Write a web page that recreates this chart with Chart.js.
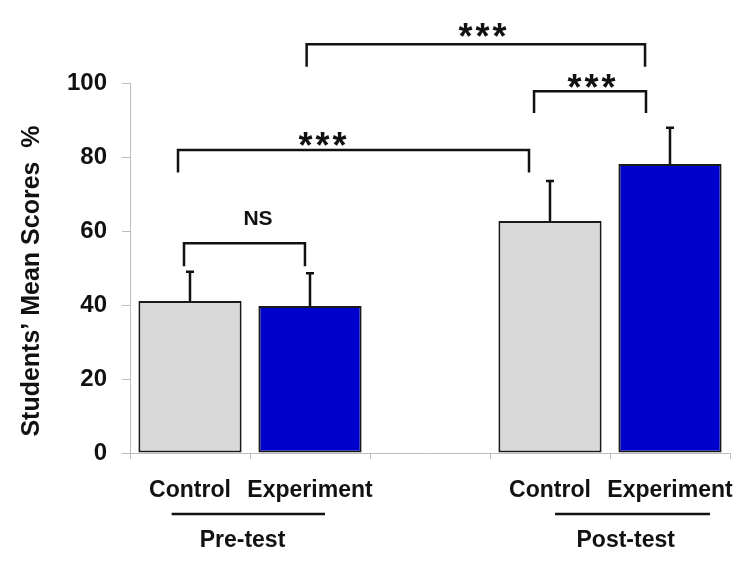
<!DOCTYPE html>
<html>
<head>
<meta charset="utf-8">
<script src="https://cdn.jsdelivr.net/npm/chart.js@4.4.1/dist/chart.umd.min.js"></script>
<style>
  body { margin: 0; background: #fff; }
  canvas { display: block; }
</style>
</head>
<body>
<canvas id="scores" width="750" height="565"></canvas>
<script>
// categories along x (empty slot keeps the gap between pre and post test)
const groups = ['Control', 'Experiment', '', 'Control', 'Experiment'];
const meanScores = [41.1, 39.7, null, 62.7, 78.1];
const stdErrors = [7.9, 8.9, null, 10.8, 9.8];
const barColors = ['#d9d9d9', '#0000cc', '#ffffff', '#d9d9d9', '#0000cc'];
const yTicks = [0, 20, 40, 60, 80, 100];

// significance brackets: from/to in category units, heights in score units
const brackets = [
  { label: 'NS',  from: -0.05, to: 0.958, top: 56.7,  leg: 50.5, textX: 0.567, textY: 63.2 },
  { label: '***', from: -0.1,  to: 2.825, top: 81.9,  leg: 75.8, textX: 1.108, textY: 85.5 },
  { label: '***', from: 2.867, to: 3.8,   top: 97.8,  leg: 91.9, textX: 3.35,  textY: 101.1 },
  { label: '***', from: 0.972, to: 3.792, top: 110.5, leg: 104.4, textX: 2.442, textY: 114.9 }
];
const phases = [
  { label: 'Pre-test',  from: -0.153, to: 1.125, textX: 0.4375 },
  { label: 'Post-test', from: 3.042,  to: 4.333, textX: 3.631 }
];
const yTitle = 'Students’ Mean Scores  %';

const FONT = "'Liberation Sans', Arial, sans-serif";

const extras = {
  id: 'extras',
  afterDraw(chart) {
    const ctx = chart.ctx;
    const x = chart.scales.x, y = chart.scales.y;
    const meta = chart.getDatasetMeta(0);
    ctx.save();
    ctx.strokeStyle = '#111';
    ctx.fillStyle = '#111';

    // error bars, upper half only
    ctx.lineWidth = 2.5;
    meta.data.forEach((bar, i) => {
      if (meanScores[i] == null) return;
      const yTop = y.getPixelForValue(meanScores[i] + stdErrors[i]);
      const yBar = y.getPixelForValue(meanScores[i]);
      ctx.beginPath();
      ctx.moveTo(bar.x, yBar);
      ctx.lineTo(bar.x, yTop);
      ctx.moveTo(bar.x - 4, yTop);
      ctx.lineTo(bar.x + 4, yTop);
      ctx.stroke();
    });

    // brackets
    ctx.lineWidth = 2.5;
    brackets.forEach(b => {
      const x1 = x.getPixelForValue(b.from), x2 = x.getPixelForValue(b.to);
      const yt = y.getPixelForValue(b.top), yl = y.getPixelForValue(b.leg);
      ctx.beginPath();
      ctx.moveTo(x1, yl);
      ctx.lineTo(x1, yt);
      ctx.lineTo(x2, yt);
      ctx.lineTo(x2, yl);
      ctx.stroke();
      const tx = x.getPixelForValue(b.textX), ty = y.getPixelForValue(b.textY);
      ctx.textAlign = 'center';
      if (b.label === 'NS') {
        ctx.font = 'bold 21px ' + FONT;
        ctx.textBaseline = 'middle';
        ctx.fillText(b.label, tx, ty);
      } else {
        ctx.font = 'bold 36px ' + FONT;
        ctx.textBaseline = 'alphabetic';
        ctx.letterSpacing = '3px';
        ctx.fillText(b.label, tx + 1, ty + 21);
        ctx.letterSpacing = '0px';
      }
    });

    // phase lines under the category labels
    const base = chart.chartArea.bottom;
    phases.forEach(p => {
      ctx.lineWidth = 2.5;
      ctx.beginPath();
      ctx.moveTo(x.getPixelForValue(p.from), base + 61);
      ctx.lineTo(x.getPixelForValue(p.to), base + 61);
      ctx.stroke();
      ctx.font = 'bold 23px ' + FONT;
      ctx.textAlign = 'center';
      ctx.textBaseline = 'middle';
      ctx.fillText(p.label, x.getPixelForValue(p.textX), base + 88);
    });

    // y axis title
    ctx.translate(32, 281);
    ctx.rotate(-Math.PI / 2);
    ctx.font = 'bold 25px ' + FONT;
    ctx.textAlign = 'center';
    ctx.textBaseline = 'middle';
    ctx.fillText(yTitle, 0, 0);
    ctx.restore();
  }
};

new Chart(document.getElementById('scores').getContext('2d'), {
  type: 'bar',
  data: {
    labels: groups,
    datasets: [{
      data: meanScores,
      backgroundColor: barColors,
      borderColor: '#1a1a1a',
      borderWidth: 2,
      borderSkipped: false,
      categoryPercentage: 1,
      barPercentage: 0.86
    }]
  },
  options: {
    responsive: false,
    animation: false,
    layout: { padding: { left: 0, right: 20, top: 83, bottom: 0 } },
    plugins: { legend: { display: false }, tooltip: { enabled: false } },
    scales: {
      x: {
        offset: true,
        grid: { offset: true, drawOnChartArea: false, tickLength: 6, color: '#bdbdbd' },
        border: { color: '#bdbdbd' },
        ticks: { color: '#111', padding: 18, maxRotation: 0, autoSkip: false,
                 font: { family: FONT, size: 23, weight: 'bold' } },
        afterFit(scale) {
          scale.height = 112;
          scale.paddingLeft = 0;
          scale.paddingRight = 0;
        }
      },
      y: {
        min: 0, max: 100,
        afterBuildTicks(scale) { scale.ticks = yTicks.map(v => ({ value: v })); },
        grid: { drawOnChartArea: false, tickLength: 8, color: '#bdbdbd' },
        border: { color: '#bdbdbd' },
        ticks: { color: '#111', padding: 15, font: { family: FONT, size: 24, weight: 'bold' } },
        afterFit(scale) { scale.width = 130; }
      }
    }
  },
  plugins: [extras]
});
</script>
</body>
</html>
